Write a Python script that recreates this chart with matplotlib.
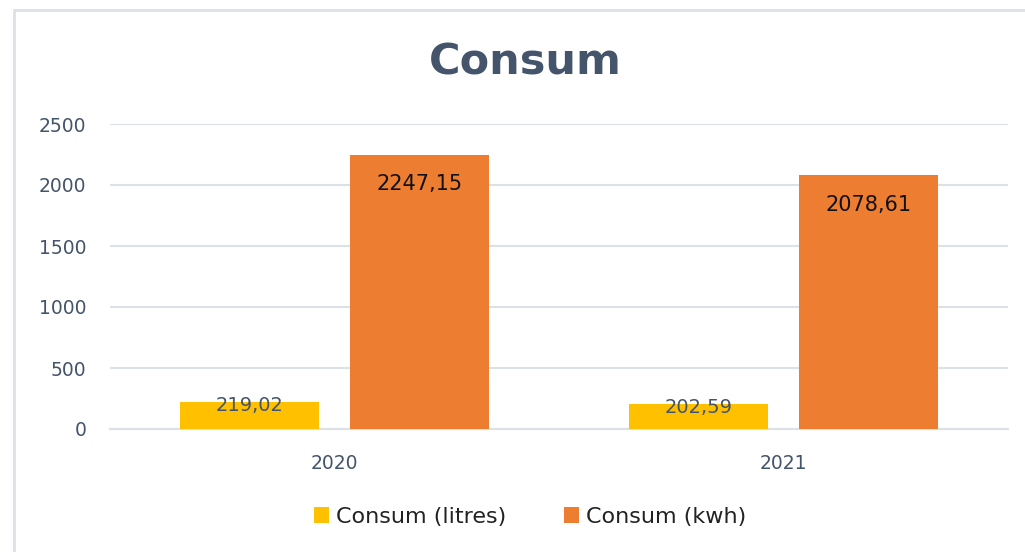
import numpy as np
import matplotlib.pyplot as plt
from matplotlib.patches import Rectangle

years = ["2020", "2021"]
litres = [219.02, 202.59]
kwh = [2247.15, 2078.61]
series_names = ["Consum (litres)", "Consum (kwh)"]

plt.rcParams['font.family'] = ['DejaVu Sans']

slate = '#44546A'
grid_col = '#DCE1E8'

fig = plt.figure(figsize=(10.25, 5.52), dpi=100)
ax = fig.add_axes([110/1025, 1 - 429/552, 898/1025, (429 - 124)/552])

# chart frame (only top/left visible in the reference)
fig.patches.append(Rectangle((14/1025, -0.1), 1.2, 1 - 10/552 + 0.1, transform=fig.transFigure,
                             fill=False, edgecolor=grid_col, linewidth=2, zorder=0))

x = np.arange(len(years))
w = 0.31
off = 0.19
b1 = ax.bar(x - off, litres, w, color='#FFC000', label=series_names[0], zorder=3)
b2 = ax.bar(x + off, kwh, w, color='#ED7D31', label=series_names[1], zorder=3)

def fmt(v):
    return f"{v:.2f}".replace('.', ',')

for rect, v in zip(b1, litres):
    ax.text(rect.get_x() + rect.get_width()/2, v - 25, fmt(v), ha='center', va='center',
            fontsize=14, color=slate, zorder=4)
for rect, v in zip(b2, kwh):
    ax.text(rect.get_x() + rect.get_width()/2, v - 240, fmt(v), ha='center', va='center',
            fontsize=15, color='#111111', zorder=4)

ax.set_xlim(-0.5, 1.5)
ax.set_ylim(0, 2500)
ax.set_yticks(np.arange(0, 2501, 500))
ax.set_xticks(x)
ax.set_xticklabels(years)
ax.yaxis.grid(True, color=grid_col, linewidth=1.5, zorder=0)
ax.set_axisbelow(True)
for s in ['top', 'right', 'left']:
    ax.spines[s].set_visible(False)
ax.spines['bottom'].set_color(grid_col)
ax.spines['bottom'].set_linewidth(1.5)
ax.tick_params(axis='both', length=0, labelsize=13.5, labelcolor=slate)
ax.tick_params(axis='y', pad=17)
ax.tick_params(axis='x', pad=18)

fig.text(525/1025, 1 - 62/552, "Consum", ha='center', va='center', fontsize=31,
         fontweight='bold', color=slate)

fig.legend(loc='center', bbox_to_anchor=(530/1025, 1 - 517/552), ncol=2, frameon=False,
           fontsize=16, handlelength=0.7, handleheight=0.7, handletextpad=0.3,
           columnspacing=2.6, labelcolor='#222222')

fig.savefig('out.png', dpi=100)
